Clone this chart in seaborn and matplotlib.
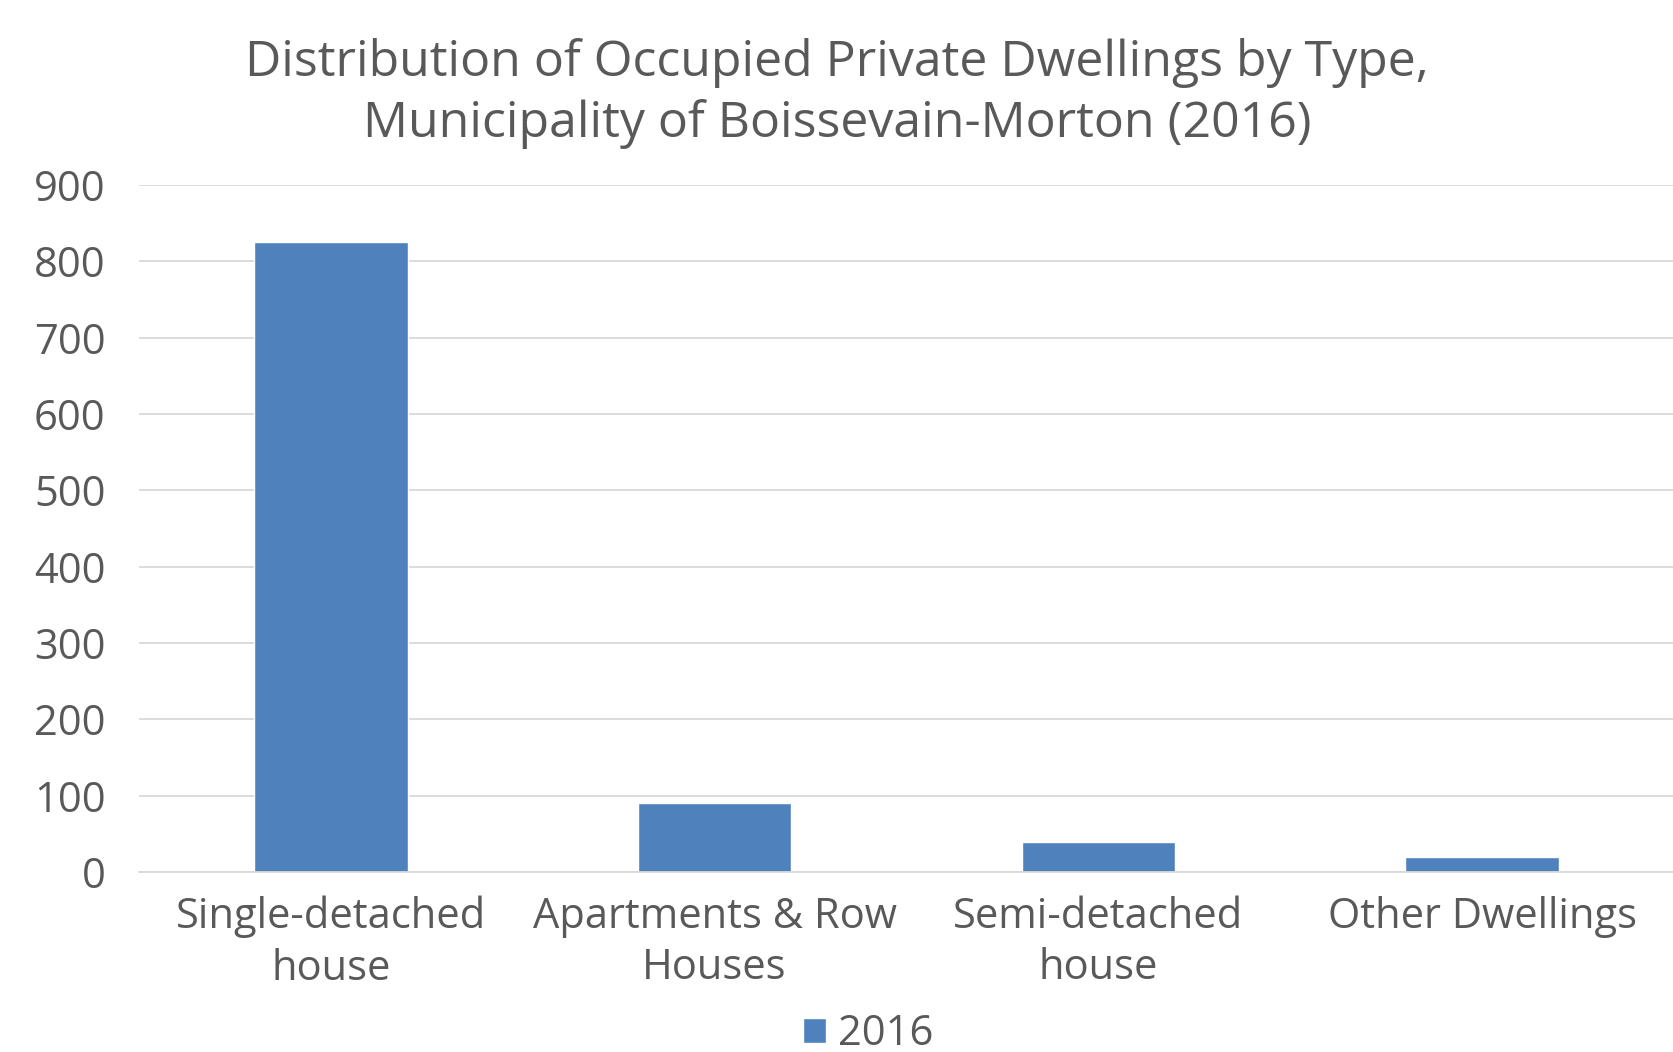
import matplotlib
matplotlib.use("Agg")
import matplotlib.pyplot as plt
import seaborn as sns
import pandas as pd

categories = ["Single-detached\nhouse", "Apartments & Row\nHouses", "Semi-detached\nhouse", "Other Dwellings"]
values_2016 = [825, 90, 40, 20]
series_name = "2016"
y_ticks = [0, 100, 200, 300, 400, 500, 600, 700, 800, 900]
title = "Distribution of Occupied Private Dwellings by Type,\nMunicipality of Boissevain-Morton (2016)"

sns.set_theme(style="white")
plt.rcParams['font.family'] = ['Open Sans', 'DejaVu Sans']
text_color = "#595959"
bar_color = "#4F81BD"

df = pd.DataFrame({"Type": categories, "Count": values_2016, "Year": series_name})

fig = plt.figure(figsize=(16.74, 10.52), dpi=100)
ax = fig.add_axes([0.083, 0.171, 0.917, 0.653])

sns.barplot(data=df, x="Type", y="Count", hue="Year", palette=[bar_color],
            width=0.4, ax=ax, saturation=1, legend=True)

ax.set_ylim(0, 900)
ax.set_xlim(-0.5, 3.5)
ax.set_yticks(y_ticks)
ax.yaxis.grid(True, color="#D9D9D9", linewidth=1.3)
ax.set_axisbelow(True)
for s in ["top", "right", "left"]:
    ax.spines[s].set_visible(False)
ax.spines["bottom"].set_color("#D9D9D9")
ax.spines["bottom"].set_linewidth(1.3)
ax.tick_params(axis="both", length=0, labelsize=30, colors=text_color)
ax.tick_params(axis="y", pad=24)
ax.tick_params(axis="x", pad=17)
ax.set_xlabel("")
ax.set_ylabel("")
for lbl in ax.get_xticklabels():
    lbl.set_linespacing(1.3)

fig.suptitle(title, fontsize=36, color=text_color, y=0.911, va="center", linespacing=1.3)

leg = ax.legend(loc="center", bbox_to_anchor=(0.475, -0.236), frameon=False,
                fontsize=30, handlelength=0.55, handleheight=0.55, handletextpad=0.3,
                labelcolor=text_color, borderaxespad=0, borderpad=0)

fig.savefig("out.png", dpi=100)
